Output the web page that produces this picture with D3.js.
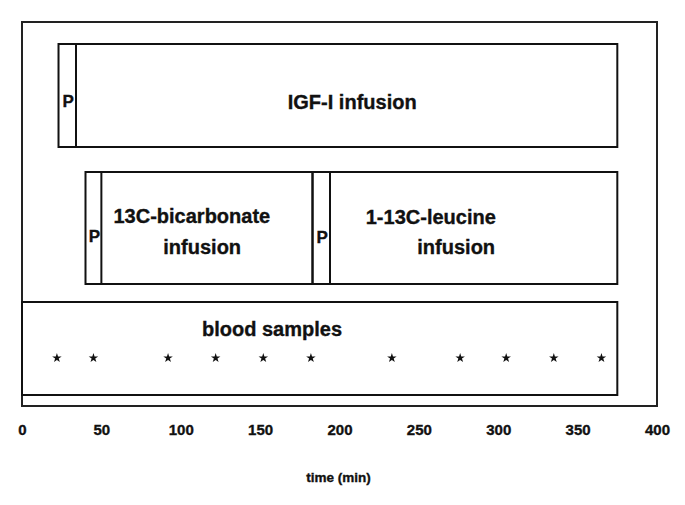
<!DOCTYPE html>
<html>
<head>
<meta charset="utf-8">
<script src="https://cdn.jsdelivr.net/npm/d3@7"></script>
<style>
  html, body { margin: 0; padding: 0; background: #fff; }
  svg { display: block; }
  text { font-family: "Liberation Sans", Arial, Helvetica, sans-serif; font-weight: bold; fill: #111; stroke: #111; stroke-width: 0.35px; }
</style>
</head>
<body>
<svg id="chart" width="685" height="505"></svg>
<script>
// ---- data ----
const timeTicks = [0, 50, 100, 150, 200, 250, 300, 350, 400];
const xTitle = "time (min)";

const boxNames   = ["IGF-I infusion", "13C-bicarbonate infusion", "1-13C-leucine infusion", "blood samples"];
const boxRow     = [0, 1, 1, 2];
const boxStart   = [23, 40, 183, 0];     // min
const primeEnd   = [34, 50, 194, null];  // priming dose (P) ends, min
const boxEnd     = [375, 183, 375, 375]; // min
const primeLabel = "P";

const sampleTimes = [22, 45, 92, 122, 152, 182, 233, 276, 305, 335, 365];

// ---- layout ----
const svg = d3.select("#chart");
const x = d3.scaleLinear().domain([0, 400]).range([22, 657]);
const rowY = [[44, 147], [172, 284], [302, 395]];
const frameTop = 22, frameBottom = 406;

const labelLayout = [
  { lines: ["IGF-I infusion"], t: [208], y: [109] },
  { lines: ["13C-bicarbonate", "infusion"], t: [107, 113.5], y: [223, 254] },
  { lines: ["1-13C-leucine", "infusion"], t: [257.5, 273.5], y: [224, 254] },
  { lines: ["blood samples"], t: [157.5], y: [336] }
];
const primeLayout = [{ y: 107 }, { y: 242 }, { y: 243 }];

// outer frame
svg.append("rect")
  .attr("x", x(0)).attr("y", frameTop)
  .attr("width", x(400) - x(0)).attr("height", frameBottom - frameTop)
  .attr("fill", "none").attr("stroke", "#222").attr("stroke-width", 2);

// boxes
boxNames.forEach((name, i) => {
  const [y0, y1] = rowY[boxRow[i]];
  svg.append("rect")
    .attr("x", x(boxStart[i])).attr("y", y0)
    .attr("width", x(boxEnd[i]) - x(boxStart[i])).attr("height", y1 - y0)
    .attr("fill", "none").attr("stroke", "#111").attr("stroke-width", 2);
  if (primeEnd[i] != null) {
    svg.append("line")
      .attr("x1", x(primeEnd[i])).attr("x2", x(primeEnd[i]))
      .attr("y1", y0).attr("y2", y1)
      .attr("stroke", "#111").attr("stroke-width", 2);
    svg.append("text")
      .attr("x", (x(boxStart[i]) + x(primeEnd[i])) / 2 + 1)
      .attr("y", primeLayout[i].y)
      .attr("text-anchor", "middle")
      .attr("font-size", 17)
      .text(primeLabel);
  }
  const L = labelLayout[i];
  L.lines.forEach((ln, k) => {
    svg.append("text")
      .attr("x", x(L.t[k])).attr("y", L.y[k])
      .attr("text-anchor", "middle")
      .attr("font-size", 20)
      .text(ln);
  });
});

// blood sample markers
svg.append("g").selectAll("path")
  .data(sampleTimes)
  .join("path")
  .attr("transform", d => `translate(${x(d)},${358})`)
  .attr("d", d3.symbol(d3.symbolStar).size(28))
  .attr("fill", "#111");

// axis (labels only)
const axis = svg.append("g")
  .attr("transform", `translate(0,${418})`)
  .call(d3.axisBottom(x).tickValues(timeTicks).tickSize(0).tickPadding(6).tickFormat(d3.format("d")));
axis.select(".domain").remove();
axis.selectAll("text")
  .attr("font-size", 15)
  .attr("font-family", "Liberation Sans, Arial, sans-serif")
  .attr("font-weight", "bold")
  .attr("fill", "#111");

svg.append("text")
  .attr("x", x(200) - 1).attr("y", 482)
  .attr("text-anchor", "middle")
  .attr("font-size", 13.5)
  .text(xTitle);
</script>
</body>
</html>
